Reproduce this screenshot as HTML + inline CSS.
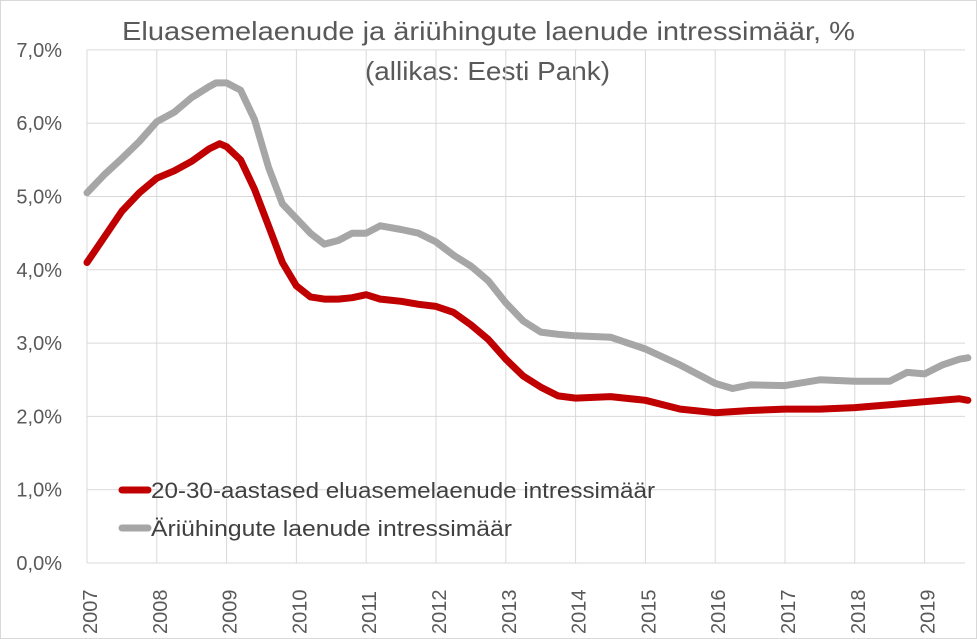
<!DOCTYPE html>
<html><head><meta charset="utf-8"><style>
body{margin:0;background:#fff;}
svg{display:block;font-family:"Liberation Sans",sans-serif;}
</style></head><body>
<svg id="c" width="977" height="639">
<rect x="0.5" y="0.5" width="976" height="638" fill="#fff" stroke="#d9d9d9"/>
<text x="122" y="40" font-size="26" fill="#595959" textLength="733" lengthAdjust="spacingAndGlyphs">Eluasemelaenude ja äriühingute laenude intressimäär, %</text>
<text x="365" y="80" font-size="26" fill="#595959" textLength="245" lengthAdjust="spacingAndGlyphs">(allikas: Eesti Pank)</text>
<g id="grid"></g><g id="axes"></g><g id="lines"></g>
<g>
<line x1="122" y1="490" x2="148" y2="490" stroke="#c00000" stroke-width="7" stroke-linecap="round"/>
<text x="151" y="498" font-size="22" fill="#404040" textLength="504" lengthAdjust="spacingAndGlyphs">20-30-aastased eluasemelaenude intressimäär</text>
<line x1="122" y1="528" x2="148" y2="528" stroke="#a6a6a6" stroke-width="7" stroke-linecap="round"/>
<text x="151" y="536" font-size="22" fill="#404040" textLength="361" lengthAdjust="spacingAndGlyphs">Äriühingute laenude intressimäär</text>
</g>
</svg>
<script>
const yTicks=[0,1,2,3,4,5,6,7];
const yLabels=["0,0%","1,0%","2,0%","3,0%","4,0%","5,0%","6,0%","7,0%"];
const xYears=[2007,2008,2009,2010,2011,2012,2013,2014,2015,2016,2017,2018,2019];
const tHousing=[2007,2007.25,2007.5,2007.75,2008,2008.25,2008.5,2008.75,2008.9,2009,2009.2,2009.4,2009.6,2009.8,2010,2010.2,2010.4,2010.6,2010.8,2011,2011.2,2011.5,2011.75,2012,2012.25,2012.5,2012.75,2013,2013.25,2013.5,2013.75,2014,2014.5,2015,2015.5,2016,2016.5,2017,2017.5,2018,2018.5,2019,2019.5,2019.62];
const vHousing=[4.1,4.45,4.8,5.05,5.25,5.35,5.48,5.65,5.72,5.68,5.5,5.1,4.6,4.1,3.78,3.63,3.6,3.6,3.62,3.66,3.6,3.57,3.53,3.5,3.42,3.25,3.05,2.78,2.55,2.4,2.28,2.25,2.27,2.22,2.1,2.05,2.08,2.1,2.1,2.12,2.16,2.2,2.24,2.22];
const tBusiness=[2007,2007.25,2007.5,2007.75,2008,2008.25,2008.5,2008.75,2008.85,2009,2009.2,2009.4,2009.6,2009.8,2010,2010.2,2010.4,2010.6,2010.8,2011,2011.2,2011.5,2011.75,2012,2012.25,2012.5,2012.75,2013,2013.25,2013.5,2013.75,2014,2014.5,2015,2015.5,2016,2016.25,2016.5,2017,2017.5,2018,2018.5,2018.75,2019,2019.25,2019.5,2019.62];
const vBusiness=[5.05,5.3,5.52,5.75,6.02,6.15,6.35,6.5,6.55,6.55,6.45,6.05,5.4,4.9,4.7,4.5,4.35,4.4,4.5,4.5,4.6,4.55,4.5,4.38,4.2,4.05,3.85,3.55,3.3,3.15,3.12,3.1,3.08,2.92,2.7,2.45,2.38,2.43,2.42,2.5,2.48,2.48,2.6,2.58,2.7,2.78,2.8];
const NS="http://www.w3.org/2000/svg";
const X0=87,X1=965,Y0=563,YPX=73.3,XPX=69.8;
const xs=t=>X0+(t-2007)*XPX, ys=v=>Y0-v*YPX;
const grid=document.getElementById('grid'),axes=document.getElementById('axes'),lines=document.getElementById('lines');
function mk(tag,attrs,parent){const e=document.createElementNS(NS,tag);for(const k in attrs)e.setAttribute(k,attrs[k]);parent.appendChild(e);return e;}
yTicks.forEach((v,i)=>{
 const l=mk('line',{x1:X0,x2:X1,y1:ys(v),y2:ys(v),stroke:'#d9d9d9','stroke-width':1},grid);
 
 
 const t=mk('text',{x:62,y:ys(v)+7,'text-anchor':'end','font-size':20,fill:'#595959'},axes);
 t.textContent=yLabels[i];
 
 
});
xYears.forEach(yr=>{
 const x=xs(yr);
 const l=mk('line',{x1:x,x2:x,y1:ys(7),y2:Y0,stroke:'#d9d9d9','stroke-width':1},grid);
 
 
 const t=mk('text',{x:0,y:0,'font-size':20,fill:'#595959',transform:`translate(${x+10},${634}) rotate(-90)`},axes);
 t.textContent=String(yr);
 
 
});
function series(ts,vs,color,name){
 const d=ts.map((t,i)=>(i?'L':'M')+xs(t).toFixed(1)+','+ys(vs[i]).toFixed(1)).join(' ');
 const p=mk('path',{d:d,fill:'none',stroke:color,'stroke-width':7,'stroke-linejoin':'round','stroke-linecap':'round'},lines);
 
 
}
series(tBusiness,vBusiness,'#a6a6a6','business-loan-rate-line');
series(tHousing,vHousing,'#c00000','housing-loan-rate-line');
</script>
</body></html>
